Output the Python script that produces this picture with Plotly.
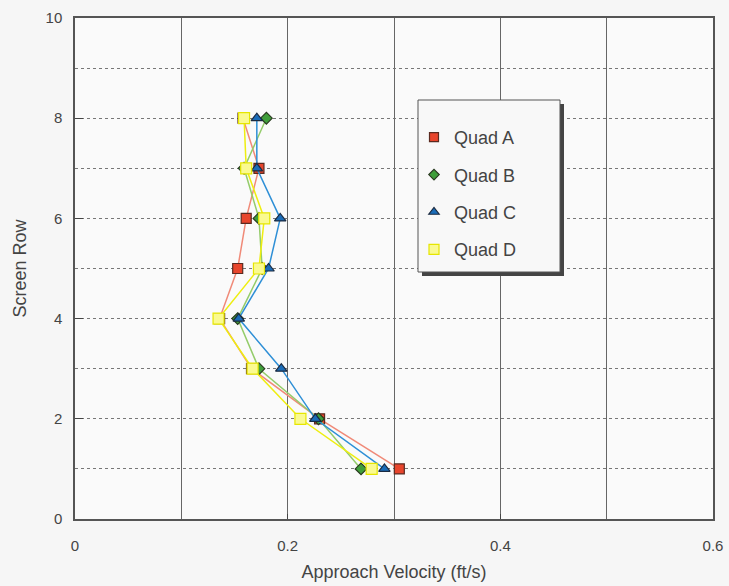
import plotly.graph_objects as go

rows = [8, 7, 6, 5, 4, 3, 2, 1]
quad_a = [0.158, 0.173, 0.161, 0.153, 0.136, 0.166, 0.230, 0.305]
quad_b = [0.180, 0.159, 0.173, 0.176, 0.153, 0.173, 0.229, 0.269]
quad_c = [0.171, 0.171, 0.193, 0.182, 0.154, 0.194, 0.226, 0.291]
quad_d = [0.159, 0.161, 0.178, 0.173, 0.135, 0.167, 0.212, 0.279]
names = ["Quad A", "Quad B", "Quad C", "Quad D"]
x_ticks = [0, 0.2, 0.4, 0.6]
x_tick_labels = ["0", "0.2", "0.4", "0.6"]

styles = [
    dict(line="#f08a78", fill="#e8452c", edge="#5a2a20", symbol="square", size=10),
    dict(line="#94cc6a", fill="#3f9e3a", edge="#2a3a20", symbol="diamond", size=9),
    dict(line="#2e8fd6", fill="#1a6cb8", edge="#1a2a40", symbol="triangle-up", size=10),
    dict(line="#eeee10", fill="#fafa90", edge="#e6e600", symbol="square", size=11),
]

fig = go.Figure()
for name, vals, st in zip(names, [quad_a, quad_b, quad_c, quad_d], styles):
    fig.add_trace(go.Scatter(
        x=vals, y=rows, mode="lines+markers", name=name, showlegend=False,
        line=dict(color=st["line"], width=1.5),
        marker=dict(symbol=st["symbol"], size=st["size"], color=st["fill"],
                    line=dict(color=st["edge"], width=1.2)),
    ))
for name, st in zip(names, styles):
    fig.add_trace(go.Scatter(
        x=[None], y=[None], mode="markers", name=name, legendgroup=name,
        marker=dict(symbol=st["symbol"], size=st["size"] - 1, color=st["fill"],
                    line=dict(color=st["edge"], width=1.2)),
    ))

# legend frame with shadow
fig.add_shape(type="rect", xref="paper", yref="paper",
              x0=(422 - 75) / 638, x1=(564 - 75) / 638,
              y0=(519 - 276) / 501, y1=(519 - 104) / 501,
              fillcolor="#444444", line=dict(width=0), layer="above")
fig.add_shape(type="rect", xref="paper", yref="paper",
              x0=(418 - 75) / 638, x1=(560 - 75) / 638,
              y0=(519 - 272) / 501, y1=(519 - 100) / 501,
              fillcolor="#f8f8f8", line=dict(color="#555555", width=1), layer="above")

fig.update_layout(
    width=729, height=586,
    margin=dict(l=75, r=16, t=18, b=67),
    paper_bgcolor="#f6f6f6", plot_bgcolor="#fafafa",
    font=dict(family="Liberation Sans, Arial, sans-serif", size=15, color="#444444"),
    showlegend=True,
    legend=dict(x=(414 - 75) / 638, y=(519 - 119) / 501, xanchor="left", yanchor="top",
                bgcolor="rgba(0,0,0,0)", borderwidth=0, itemwidth=30,
                tracegroupgap=11, font=dict(size=18, color="#444444")),
    xaxis=dict(range=[0, 0.6], tickvals=x_ticks, ticktext=x_tick_labels,
               showgrid=True, gridcolor="#666666", gridwidth=1,
               minor=dict(dtick=0.1, showgrid=True, gridcolor="#666666", gridwidth=1),
               showline=True, linecolor="#555555", linewidth=1.5, mirror=True,
               ticks="inside", ticklen=5, tickcolor="#444444", zeroline=False,
               automargin=False,
               title=dict(text="Approach Velocity (ft/s)", standoff=13),
               ticklabelstandoff=12),
    yaxis=dict(range=[0, 10], dtick=2, tick0=0,
               showgrid=True, gridcolor="#777777", griddash="dot", gridwidth=1,
               minor=dict(dtick=1, showgrid=True, gridcolor="#777777", griddash="dot", gridwidth=1),
               showline=True, linecolor="#555555", linewidth=1.5, mirror=True,
               ticks="inside", ticklen=8, tickcolor="#444444", zeroline=False,
               automargin=False, ticklabelstandoff=8,
               title=dict(text="Screen Row", standoff=14)),
)
fig.write_html("out.html", config={"displayModeBar": False},
               post_script="document.body.style.margin='0';")
